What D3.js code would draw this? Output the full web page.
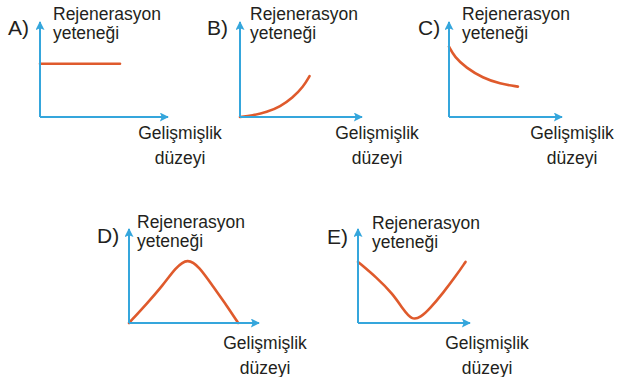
<!DOCTYPE html>
<html>
<head>
<meta charset="utf-8">
<script src="https://cdn.jsdelivr.net/npm/d3@7"></script>
<style>
  body { margin: 0; background: #fff; }
  text { font-family: "Liberation Sans", Arial, sans-serif; font-size: 17.5px; fill: #231f20; }
  text.letter { font-size: 21px; }
</style>
</head>
<body>
<svg id="chart" width="620" height="377"></svg>
<script>
(function() {
    'use strict';

    // panel letters and axis titles
    var letters = ["A)", "B)", "C)", "D)", "E)"];
    var yTitle = ["Rejenerasyon", "yeteneği"];
    var xTitle = ["Gelişmişlik", "düzeyi"];

    // curves, x and y on a 0..10 scale (10 = arrow tip)
    var curveA = [[0, 5.6], [6.25, 5.6]];
    var curveB = [[0, 0], [1, 0.15], [2.2, 0.5], [3.3, 1.1], [4.3, 2.0], [5.2, 3.2], [5.7, 4.3]];
    var curveC = [[0, 7.4], [0.5, 6.3], [1.5, 5.2], [3, 4.1], [4.5, 3.5], [6.1, 3.2]];
    var curveD = [[0, 0], [1.4, 2.1], [2.6, 4.0], [3.6, 5.9], [4.5, 6.9], [5.4, 6.0], [6.5, 3.8], [7.5, 1.9], [8.4, 0]];
    var curveE = [[0, 6.5], [1.7, 4.8], [3.1, 3.1], [4, 1.5], [4.8, 0.3], [5.6, 0.6], [6.4, 1.5], [7.6, 3.2], [8.8, 5.1], [9.6, 6.5]];
    var curves = [curveA, curveB, curveC, curveD, curveE];

    // layout: origin, axis lengths, label offsets
    var panels = [
        {ox: 40,  oy: 117, w: 128, h: 95, letX: -32, letY: -82, titX: 13, titY: -97, gelX: 98, gelY: 22},
        {ox: 240, oy: 117, w: 122, h: 95, letX: -33, letY: -82, titX: 10, titY: -97, gelX: 95, gelY: 22},
        {ox: 449, oy: 117, w: 113, h: 95, letX: -31, letY: -82, titX: 13, titY: -97, gelX: 81, gelY: 22},
        {ox: 129, oy: 323, w: 130, h: 94, letX: -32, letY: -80, titX: 8,  titY: -95, gelX: 94, gelY: 26},
        {ox: 358, oy: 323, w: 112, h: 94, letX: -31, letY: -79, titX: 14, titY: -94, gelX: 87, gelY: 26}
    ];

    var blue = "#35a6dc",
        red = "#df5a2c";

    var svg = d3.select("#chart");

    svg.append("defs").append("marker")
        .attr("id", "arrow")
        .attr("viewBox", "0 0 10 10")
        .attr("refX", 9)
        .attr("refY", 5)
        .attr("markerUnits", "userSpaceOnUse")
        .attr("markerWidth", 10)
        .attr("markerHeight", 9)
        .attr("orient", "auto")
        .append("path")
        .attr("d", "M0,0L10,5L0,10L2,5Z")
        .attr("fill", blue);

    panels.forEach(function(p, i) {
        var x = d3.scaleLinear().domain([0, 10]).range([p.ox, p.ox + p.w]);
        var y = d3.scaleLinear().domain([0, 10]).range([p.oy, p.oy - p.h]);
        var g = svg.append("g");

        // curve first, axes on top
        var line = d3.line()
            .x(function(d) { return x(d[0]); })
            .y(function(d) { return y(d[1]); })
            .curve(d3.curveBasis);

        g.append("path")
            .datum(curves[i])
            .attr("d", line)
            .attr("fill", "none")
            .attr("stroke", red)
            .attr("stroke-width", 2.6)
            .attr("stroke-linecap", "round");

        g.append("line")
            .attr("x1", x(0)).attr("y1", y(0))
            .attr("x2", x(0)).attr("y2", y(10))
            .attr("stroke", blue)
            .attr("stroke-width", 2)
            .attr("marker-end", "url(#arrow)");

        g.append("line")
            .attr("x1", x(0)).attr("y1", y(0))
            .attr("x2", x(10)).attr("y2", y(0))
            .attr("stroke", blue)
            .attr("stroke-width", 2)
            .attr("marker-end", "url(#arrow)");

        g.append("text")
            .attr("class", "letter")
            .attr("x", p.ox + p.letX)
            .attr("y", p.oy + p.letY)
            .text(letters[i]);

        g.selectAll("text.yt")
            .data(yTitle)
            .enter().append("text")
            .attr("class", "yt")
            .attr("x", p.ox + p.titX)
            .attr("y", function(d, k) { return p.oy + p.titY + k * 19; })
            .text(function(d) { return d; });

        var gelW = 84;
        g.selectAll("text.xt")
            .data(xTitle)
            .enter().append("text")
            .attr("class", "xt")
            .attr("x", p.ox + p.gelX + gelW / 2)
            .attr("y", function(d, k) { return p.oy + p.gelY + k * 25; })
            .attr("text-anchor", "middle")
            .text(function(d) { return d; });
    });
})();
</script>
</body>
</html>
